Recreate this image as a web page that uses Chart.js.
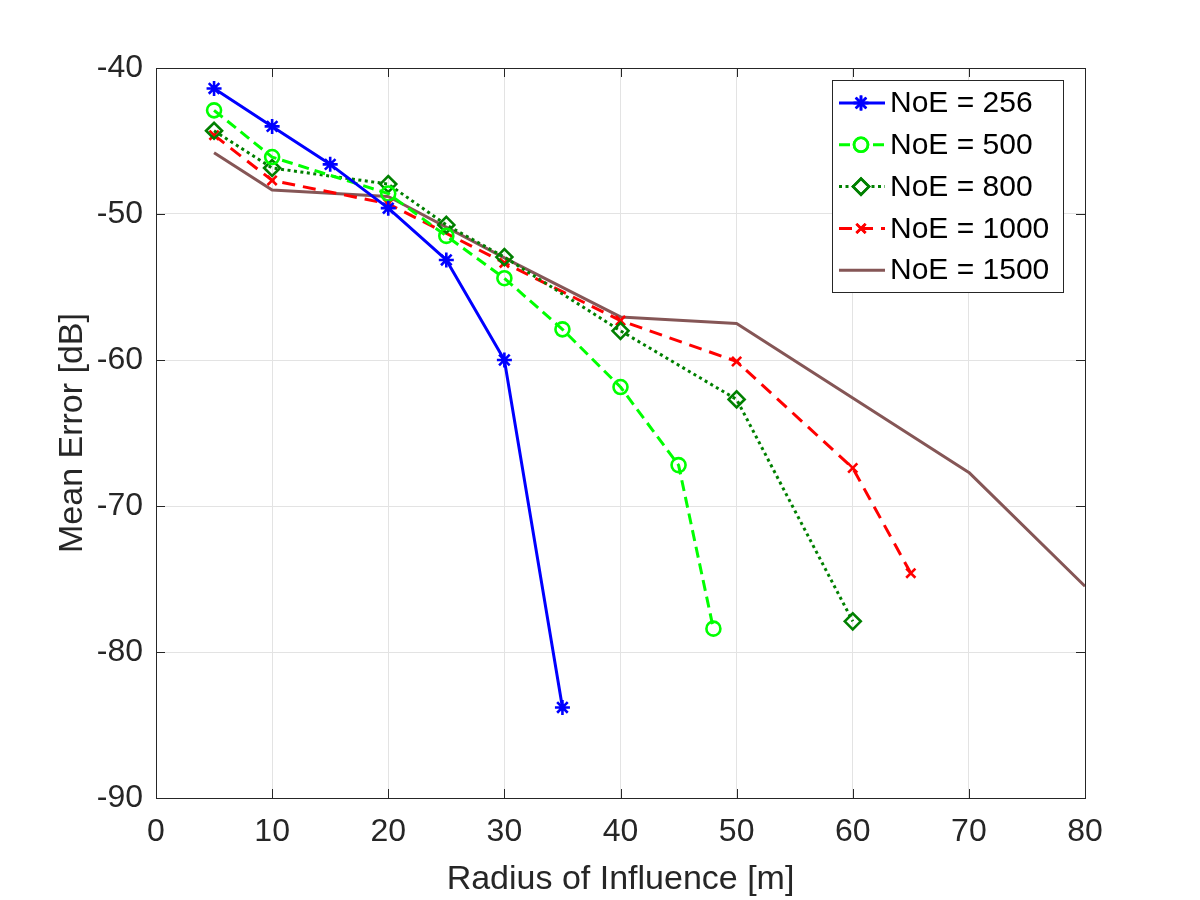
<!DOCTYPE html>
<html>
<head>
<meta charset="utf-8">
<script src="https://cdn.jsdelivr.net/npm/chart.js@4"></script>
<style>
  body { margin: 0; background: #fff; }
  #wrap { width: 1200px; height: 900px; }
</style>
</head>
<body>
<div id="wrap"><canvas id="chart" width="1200" height="900"></canvas></div>
<script>
// data
const x256 = [5, 10, 15, 20, 25, 30, 35];
const y256 = [-41.4, -44.0, -46.6, -49.6, -53.15, -60.0, -83.8];
const x500 = [5, 10, 20, 25, 30, 35, 40, 45, 48];
const y500 = [-42.9, -46.1, -48.6, -51.5, -54.4, -57.9, -61.85, -67.2, -78.4];
const x800 = [5, 10, 20, 25, 30, 40, 50, 60];
const y800 = [-44.3, -46.85, -47.95, -50.75, -52.95, -58.0, -62.7, -77.9];
const x1000 = [5, 10, 20, 30, 40, 50, 60, 65];
const y1000 = [-44.6, -47.7, -49.3, -53.35, -57.3, -60.1, -67.4, -74.6];
const x1500 = [5, 10, 20, 30, 40, 50, 60, 70, 80];
const y1500 = [-45.8, -48.35, -48.8, -53.0, -57.05, -57.5, -62.6, -67.7, -75.5];
const seriesLabels = ['NoE = 256', 'NoE = 500', 'NoE = 800', 'NoE = 1000', 'NoE = 1500'];
const xTicks = [0, 10, 20, 30, 40, 50, 60, 70, 80];
const yTicks = [-90, -80, -70, -60, -50, -40];

const FONT = '"Liberation Sans", Arial, sans-serif';
const AXIS = '#262626';

function pts(xs, ys) { return xs.map((x, i) => ({x: x, y: ys[i]})); }

const styles = [
  {color: '#0000ff', dash: [], point: 'star', r: 7.5},
  {color: '#00ff00', dash: [11, 6], point: 'circle', r: 7},
  {color: '#008000', dash: [3, 3.5], point: 'rectRot', r: 8},
  {color: '#ff0000', dash: [13, 8], point: 'crossRot', r: 6.5},
  {color: '#855656', dash: [], point: false, r: 0}
];
const xsAll = [x256, x500, x800, x1000, x1500];
const ysAll = [y256, y500, y800, y1000, y1500];

const datasets = seriesLabels.map((lab, i) => ({
  label: lab,
  data: pts(xsAll[i], ysAll[i]),
  borderColor: styles[i].color,
  backgroundColor: 'rgba(0,0,0,0)',
  borderWidth: 3,
  borderDash: styles[i].dash,
  borderJoinStyle: 'round',
  pointStyle: styles[i].point,
  pointRadius: styles[i].r,
  pointBorderWidth: 2.6,
  pointBorderColor: styles[i].color,
  pointBackgroundColor: 'rgba(0,0,0,0)',
  tension: 0
}));

// MATLAB style box with inward ticks and inside legend
const boxPlugin = {
  id: 'box',
  afterDraw(chart) {
    const ctx = chart.ctx;
    const a = chart.chartArea;
    const xs = chart.scales.x, ys = chart.scales.y;
    ctx.save();
    ctx.strokeStyle = AXIS;
    ctx.lineWidth = 1;
    ctx.setLineDash([]);
    ctx.strokeRect(a.left + 0.5, a.top + 0.5, a.right - a.left, a.bottom - a.top);
    const t = 9;
    ctx.beginPath();
    xTicks.forEach(v => {
      const p = Math.round(xs.getPixelForValue(v)) + 0.5;
      ctx.moveTo(p, a.bottom); ctx.lineTo(p, a.bottom - t);
      ctx.moveTo(p, a.top); ctx.lineTo(p, a.top + t);
    });
    yTicks.forEach(v => {
      const p = Math.round(ys.getPixelForValue(v)) + 0.5;
      ctx.moveTo(a.left, p); ctx.lineTo(a.left + t, p);
      ctx.moveTo(a.right, p); ctx.lineTo(a.right - t, p);
    });
    ctx.stroke();

    // legend
    const lx = 832, ly = 80, lw = 231, lh = 212;
    ctx.fillStyle = '#fff';
    ctx.fillRect(lx, ly, lw, lh);
    ctx.strokeStyle = '#262626';
    ctx.strokeRect(lx + 0.5, ly + 0.5, lw, lh);
    ctx.font = '30px ' + FONT;
    ctx.textBaseline = 'middle';
    ctx.textAlign = 'left';
    seriesLabels.forEach((lab, i) => {
      const cy = ly + 23 + i * 41.8;
      const s = styles[i];
      ctx.strokeStyle = s.color;
      ctx.lineWidth = 3;
      ctx.setLineDash(s.dash);
      ctx.beginPath();
      ctx.moveTo(839, cy); ctx.lineTo(885, cy);
      ctx.stroke();
      ctx.setLineDash([]);
      if (s.point) {
        ctx.lineWidth = 2.6;
        ctx.fillStyle = '#fff';
        Chart.helpers.drawPoint(ctx, {pointStyle: s.point, radius: s.r, borderWidth: 2.6}, 861, cy);
        ctx.stroke();
      }
      ctx.fillStyle = '#000';
      ctx.fillText(lab, 890, cy + 1);
    });
    ctx.restore();
  }
};

new Chart(document.getElementById('chart'), {
  type: 'line',
  data: {datasets: datasets},
  plugins: [boxPlugin],
  options: {
    responsive: false,
    animation: false,
    layout: {padding: {left: 0, top: 68, right: 115, bottom: 0}},
    plugins: {legend: {display: false}, tooltip: {enabled: false}},
    scales: {
      x: {
        type: 'linear', min: 0, max: 80,
        afterBuildTicks: s => { s.ticks = xTicks.map(v => ({value: v})); },
        afterFit: s => { s.height = 102; },
        ticks: {color: AXIS, font: {family: FONT, size: 32}, padding: 15, maxRotation: 0},
        grid: {color: '#e3e3e3', lineWidth: 1, drawTicks: false},
        border: {display: false},
        title: {display: true, text: 'Radius of Influence [m]', color: AXIS,
          font: {family: FONT, size: 34}, padding: {top: 0, bottom: 0}}
      },
      y: {
        type: 'linear', min: -90, max: -40,
        afterBuildTicks: s => { s.ticks = yTicks.map(v => ({value: v})); },
        afterFit: s => { s.width = 156; },
        ticks: {color: AXIS, font: {family: FONT, size: 32}, padding: 13},
        grid: {color: '#e3e3e3', lineWidth: 1, drawTicks: false},
        border: {display: false},
        title: {display: true, text: 'Mean Error [dB]', color: AXIS,
          font: {family: FONT, size: 34}, padding: {bottom: 0, top: 52}}
      }
    }
  }
});
</script>
</body>
</html>
